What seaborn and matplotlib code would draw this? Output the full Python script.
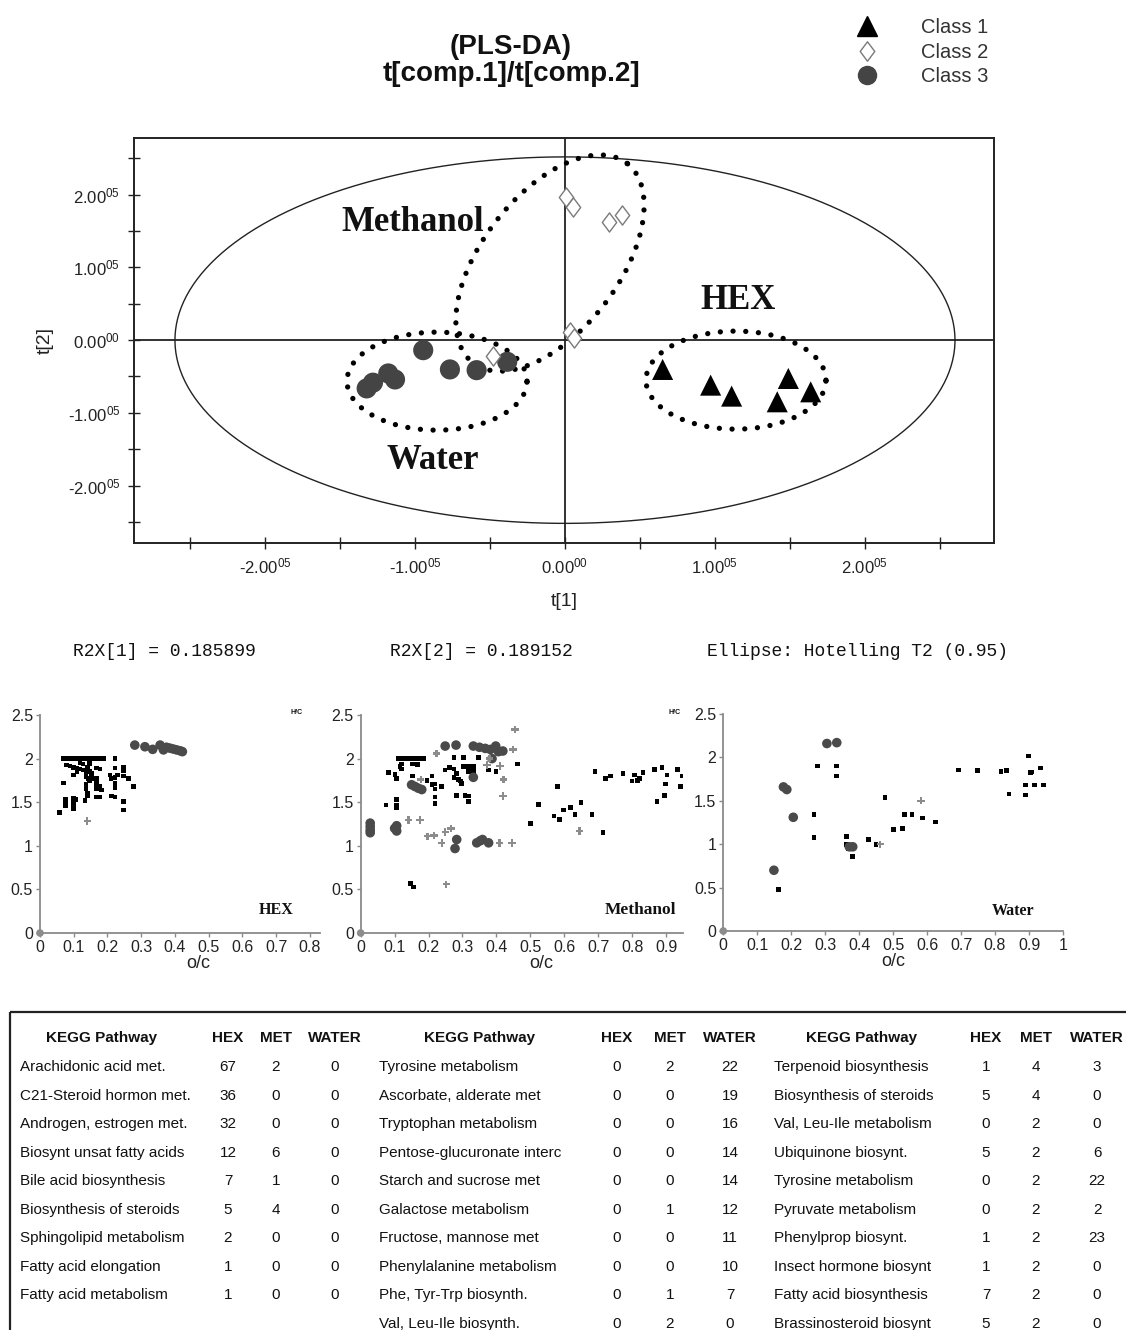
import numpy as np
import pandas as pd
import matplotlib
matplotlib.use("Agg")
import matplotlib.pyplot as plt
from matplotlib.lines import Line2D
from matplotlib.path import Path
from matplotlib.patches import Rectangle
from matplotlib.ticker import FixedLocator, FuncFormatter
import seaborn as sns

sns.set_style("ticks")
plt.rcParams["font.family"] = ["Liberation Sans", "DejaVu Sans"]
plt.rcParams["mathtext.fontset"] = "custom"
plt.rcParams["mathtext.rm"] = "Liberation Sans"
plt.rcParams["mathtext.it"] = "Liberation Sans:italic"
plt.rcParams["mathtext.bf"] = "Liberation Sans:bold"
plt.rcParams["axes.unicode_minus"] = False

W, H = 1126, 1330

# ---------------- PLS-DA scores (t[1], t[2]) ----------------
hex_t1 = [65100, 97100, 111100, 148900, 141500, 163800]
hex_t2 = [-40300, -61900, -77000, -52700, -84800, -71100]
met_t1 = [700, 5200, 29300, 37800, 3300, 6300, -47700]
met_t2 = [197100, 182900, 162700, 171900, 11400, 2300, -22000]
wat_t1 = [-132200, -128000, -117800, -113300, -94500, -76700, -58900, -38500]
wat_t2 = [-66400, -58500, -45800, -54100, -13800, -40300, -41300, -29800]

# Hotelling T2 (0.95) ellipse semi-axes
hotelling_axes = (260000, 252000)

# Group outlines: centre, two conjugate semi-diameters
group_names = ["Methanol", "Water", "HEX"]
group_centres = [(-10000, 106000), (-85300, -56400), (114000, -55000)]
group_vec_a = [(51400, 137100), (60000, 0), (60000, 0)]
group_vec_b = [(-36000, 57500), (0, 67400), (0, 67400)]
group_label_pos = [(-101300, 162300), (-88000, -165000), (115300, 55000)]

r2x_text = ["R2X[1] = 0.185899", "R2X[2] = 0.189152", "Ellipse: Hotelling T2 (0.95)"]

# ---------------- van Krevelen data (O/C, H/C) ----------------
hex_squares = [
    (0.07, 2.0), (0.08, 2.0), (0.09, 2.0), (0.10, 2.0), (0.11, 2.0), (0.12, 2.0),
    (0.13, 2.0), (0.14, 2.0), (0.15, 2.0), (0.165, 2.0), (0.176, 2.0), (0.19, 2.0),
    (0.222, 2.0),
    (0.079, 1.926), (0.089, 1.914), (0.099, 1.90), (0.109, 1.89), (0.119, 1.88), (0.128, 1.868),
    (0.069, 1.72), (0.057, 1.38), (0.076, 1.53), (0.076, 1.49), (0.076, 1.455),
    (0.099, 1.54), (0.099, 1.485), (0.099, 1.43), (0.107, 1.53), (0.10, 1.81),
    (0.11, 1.85), (0.119, 1.95), (0.127, 1.94),
    (0.133, 1.52), (0.136, 1.65), (0.136, 1.70), (0.136, 1.79), (0.136, 1.84),
    (0.14, 1.90), (0.146, 1.945), (0.146, 1.85), (0.143, 1.77), (0.146, 1.75),
    (0.14, 1.57), (0.14, 1.60), (0.156, 1.77), (0.153, 1.83),
    (0.168, 1.89), (0.168, 1.77), (0.168, 1.715), (0.168, 1.66), (0.168, 1.56),
    (0.178, 1.88), (0.178, 1.68), (0.178, 1.56), (0.183, 1.64), (0.207, 1.81),
    (0.21, 1.77), (0.212, 1.57), (0.222, 1.56),
    (0.222, 1.89), (0.222, 1.78), (0.222, 1.715), (0.222, 1.67), (0.229, 1.81),
    (0.248, 1.90), (0.248, 1.86), (0.248, 1.80), (0.248, 1.505), (0.248, 1.41),
    (0.262, 1.77), (0.277, 1.68),
]
hex_circles = [
    (0.281, 2.155), (0.311, 2.136), (0.334, 2.106), (0.356, 2.155), (0.366, 2.10),
    (0.375, 2.13), (0.385, 2.12), (0.395, 2.11), (0.405, 2.10), (0.415, 2.09), (0.422, 2.08),
]
hex_pluses = [(0.14, 1.286)]

met_squares = [
    (0.11, 2.0), (0.12, 2.0), (0.13, 2.0), (0.14, 2.0), (0.15, 2.0), (0.16, 2.0),
    (0.17, 2.0), (0.185, 2.0),
    (0.082, 1.84), (0.075, 1.47), (0.101, 1.82), (0.106, 1.77), (0.106, 1.53),
    (0.106, 1.47), (0.106, 1.44), (0.116, 1.91), (0.121, 1.88), (0.121, 1.94),
    (0.153, 1.94), (0.167, 1.93), (0.153, 1.80), (0.18, 1.64), (0.195, 1.75),
    (0.21, 1.80), (0.21, 1.70), (0.219, 1.71), (0.219, 1.65), (0.219, 1.56),
    (0.219, 1.485), (0.239, 1.68), (0.249, 1.87), (0.262, 1.90), (0.275, 2.01),
    (0.275, 1.88), (0.275, 1.785), (0.283, 1.83), (0.288, 1.76), (0.295, 1.745),
    (0.298, 1.715), (0.283, 1.58), (0.303, 2.01), (0.303, 1.91), (0.308, 1.58),
    (0.318, 1.57), (0.318, 1.505), (0.318, 1.91), (0.318, 1.85), (0.332, 1.91),
    (0.332, 1.85), (0.347, 2.01), (0.377, 1.87), (0.399, 1.85), (0.462, 1.94),
    (0.50, 1.256), (0.524, 1.474), (0.57, 1.34), (0.58, 1.68), (0.586, 1.30),
    (0.598, 1.41), (0.618, 1.44), (0.632, 1.36), (0.649, 1.50), (0.682, 1.36),
    (0.691, 1.85), (0.714, 1.15), (0.721, 1.77), (0.736, 1.80), (0.773, 1.83),
    (0.80, 1.745), (0.807, 1.81), (0.815, 1.75), (0.822, 1.77), (0.832, 1.84),
    (0.866, 1.875), (0.873, 1.505), (0.888, 1.90), (0.895, 1.58), (0.898, 1.71),
    (0.903, 1.81), (0.934, 1.875), (0.942, 1.68), (0.947, 1.80),
    (0.146, 0.567), (0.155, 0.528),
]
met_circles = [
    (0.028, 1.26), (0.028, 1.22), (0.028, 1.18), (0.028, 1.15),
    (0.106, 1.23), (0.106, 1.17), (0.10, 1.20),
    (0.15, 1.70), (0.16, 1.68), (0.17, 1.66), (0.18, 1.645),
    (0.249, 2.144), (0.281, 2.155), (0.332, 2.144), (0.35, 2.13), (0.367, 2.117),
    (0.382, 2.105), (0.398, 2.144), (0.406, 2.08), (0.419, 2.087), (0.387, 2.0),
    (0.332, 1.785),
    (0.283, 1.072), (0.278, 0.969), (0.342, 1.034), (0.352, 1.057), (0.359, 1.072),
    (0.377, 1.034),
]
met_pluses = [
    (0.224, 2.06), (0.141, 1.294), (0.175, 1.294), (0.177, 1.76), (0.197, 1.11),
    (0.216, 1.12), (0.239, 1.034), (0.249, 1.16), (0.266, 1.20), (0.252, 0.559),
    (0.372, 1.926), (0.411, 1.914), (0.421, 1.76), (0.419, 1.57), (0.449, 2.105),
    (0.455, 2.335), (0.409, 1.034), (0.446, 1.034), (0.645, 1.17), (0.38, 2.0),
]

wat_squares = [
    (0.162, 0.48), (0.267, 1.34), (0.267, 1.077), (0.277, 1.90), (0.334, 1.90),
    (0.334, 1.785), (0.363, 1.092), (0.363, 1.0), (0.368, 0.95), (0.381, 0.86),
    (0.427, 1.054), (0.45, 1.0), (0.476, 1.535), (0.501, 1.17), (0.528, 1.18),
    (0.533, 1.34), (0.555, 1.34), (0.587, 1.30), (0.624, 1.258), (0.693, 1.854),
    (0.749, 1.846), (0.817, 1.835), (0.833, 1.846), (0.841, 1.577), (0.899, 2.015),
    (0.889, 1.68), (0.889, 1.565), (0.904, 1.823), (0.909, 1.83), (0.916, 1.68),
    (0.933, 1.88), (0.943, 1.68),
]
wat_circles = [
    (0.149, 0.70), (0.177, 1.66), (0.187, 1.63), (0.206, 1.31), (0.305, 2.16),
    (0.334, 2.17), (0.371, 0.97), (0.381, 0.97),
]
wat_pluses = [(0.462, 1.0), (0.582, 1.50)]

origin_point = [(0.0, 0.0)]

# ---------------- KEGG pathway table ----------------
kegg1 = ["Arachidonic acid met.", "C21-Steroid hormon met.", "Androgen, estrogen met.",
         "Biosynt unsat fatty acids", "Bile acid biosynthesis", "Biosynthesis of steroids",
         "Sphingolipid metabolism", "Fatty acid elongation", "Fatty acid metabolism"]
hex1 = [67, 36, 32, 12, 7, 5, 2, 1, 1]
met1 = [2, 0, 0, 6, 1, 4, 0, 0, 0]
wat1 = [0, 0, 0, 0, 0, 0, 0, 0, 0]

kegg2 = ["Tyrosine metabolism", "Ascorbate, alderate met", "Tryptophan metabolism",
         "Pentose-glucuronate interc", "Starch and sucrose met", "Galactose metabolism",
         "Fructose, mannose met", "Phenylalanine metabolism", "Phe, Tyr-Trp biosynth.",
         "Val, Leu-Ile biosynth."]
hex2 = [0, 0, 0, 0, 0, 0, 0, 0, 0, 0]
met2 = [2, 0, 0, 0, 0, 1, 0, 0, 1, 2]
wat2 = [22, 19, 16, 14, 14, 12, 11, 10, 7, 0]

kegg3 = ["Terpenoid biosynthesis", "Biosynthesis of steroids", "Val, Leu-Ile metabolism",
         "Ubiquinone biosynt.", "Tyrosine metabolism", "Pyruvate metabolism",
         "Phenylprop biosynt.", "Insect hormone biosynt", "Fatty acid biosynthesis",
         "Brassinosteroid biosynt"]
hex3 = [1, 5, 0, 5, 0, 0, 1, 1, 7, 5]
met3 = [4, 4, 2, 2, 2, 2, 2, 2, 2, 2]
wat3 = [3, 0, 0, 6, 22, 2, 23, 0, 0, 0]


def fx(px):
    return px / W


def fy(py):
    return 1 - py / H


fig = plt.figure(figsize=(W / 100, H / 100), dpi=100)

# ---------------- score plot ----------------
ax = fig.add_axes([fx(134), fy(543), 860 / W, 405 / H])
ax.axhline(0, color="#222222", lw=1.3, zorder=1)
ax.axvline(0, color="#222222", lw=1.3, zorder=1)

theta = np.linspace(0, 2 * np.pi, 400)
ax.plot(hotelling_axes[0] * np.cos(theta), hotelling_axes[1] * np.sin(theta),
        color="#222222", lw=1.0, zorder=1)

for c, a, b in zip(group_centres, group_vec_a, group_vec_b):
    gx = c[0] + a[0] * np.cos(theta) + b[0] * np.sin(theta)
    gy = c[1] + a[1] * np.cos(theta) + b[1] * np.sin(theta)
    ax.plot(gx, gy, color="black", lw=3.8, linestyle=(0, (0.01, 2.4)),
            dash_capstyle="round", zorder=2)

scores = pd.DataFrame({
    "t1": hex_t1 + met_t1 + wat_t1,
    "t2": hex_t2 + met_t2 + wat_t2,
    "cls": ["Class 1"] * len(hex_t1) + ["Class 2"] * len(met_t1) + ["Class 3"] * len(wat_t1),
})

diamond = Path([(0, 1), (0.75, 0), (0, -1), (-0.75, 0), (0, 1)],
               [Path.MOVETO, Path.LINETO, Path.LINETO, Path.LINETO, Path.CLOSEPOLY])

sns.scatterplot(data=scores[scores.cls == "Class 3"], x="t1", y="t2", ax=ax,
                marker="o", s=210, color="#444444", edgecolor="none", legend=False, zorder=3)
sns.scatterplot(data=scores[scores.cls == "Class 2"], x="t1", y="t2", ax=ax,
                marker=diamond, s=190, color="white", edgecolor="#7a7a7a", linewidth=1.0,
                legend=False, zorder=4)
sns.scatterplot(data=scores[scores.cls == "Class 1"], x="t1", y="t2", ax=ax,
                marker="^", s=230, color="black", edgecolor="none", legend=False, zorder=3)

for name, pos in zip(group_names, group_label_pos):
    ax.text(pos[0], pos[1], name, family="Liberation Serif", weight="bold",
            fontsize=25, ha="center", va="center", color="#111111", zorder=5)

ax.set_xlim(-287300, 286000)
ax.set_ylim(-279000, 278000)
ticks = np.arange(-250000, 250001, 50000)
ax.xaxis.set_major_locator(FixedLocator(ticks))
ax.yaxis.set_major_locator(FixedLocator(ticks))


def sci_label(v, pos):
    k = v / 1e5
    if abs(k - round(k)) > 1e-6:
        return ""
    k = int(round(k))
    exp = "00" if k == 0 else "05"
    sign = "-" if k < 0 else ""
    return sign + r"$\mathregular{" + f"{abs(k):.2f}" + "^{" + exp + "}}$"


ax.xaxis.set_major_formatter(FuncFormatter(sci_label))
ax.yaxis.set_major_formatter(FuncFormatter(sci_label))
ax.tick_params(direction="inout", length=8, width=1.0, labelsize=12,
               colors="#222222", pad=6)
for sp in ax.spines.values():
    sp.set_color("#222222")
    sp.set_linewidth(1.4)
ax.set_xlabel("t[1]", fontsize=14, color="#222222", labelpad=12)
ax.set_ylabel("t[2]", fontsize=14, color="#222222", labelpad=10)

fig.text(fx(511), fy(47), "(PLS-DA)", ha="center", va="center",
         fontsize=20, weight="bold", color="#111111")
fig.text(fx(511), fy(74), "t[comp.1]/t[comp.2]", ha="center", va="center",
         fontsize=20, weight="bold", color="#111111")

handles = [
    Line2D([], [], ls="", marker="^", color="black", ms=14),
    Line2D([], [], ls="", marker=diamond, mfc="white", mec="#7a7a7a", mew=1.0, ms=14),
    Line2D([], [], ls="", marker="o", color="#444444", ms=13),
]
fig.legend(handles, ["Class 1", "Class 2", "Class 3"], loc="upper left",
           bbox_to_anchor=(fx(857), fy(18)), frameon=False, fontsize=14.5,
           handlelength=1.0, handletextpad=2.2, labelspacing=0.28,
           borderpad=0, borderaxespad=0, labelcolor="#333333")

for txt, px in zip(r2x_text, [73, 390, 707]):
    fig.text(fx(px), fy(651), txt, ha="left", va="center",
             family="Liberation Mono", fontsize=13, color="#111111")

# ---------------- van Krevelen panels ----------------
panels = [
    dict(rect=[fx(40), fy(933), 280 / W, 218 / H], xmax=0.83, xticks=np.arange(0, 0.81, 0.1),
         sq=hex_squares, ci=hex_circles, pl=hex_pluses, name="HEX", nsize=11.5,
         npos=(0.843, 0.105), hc=0.918, labx=0.564),
    dict(rect=[fx(360.7), fy(933), 322.3 / W, 218 / H], xmax=0.95, xticks=np.arange(0, 0.91, 0.1),
         sq=met_squares, ci=met_circles, pl=met_pluses, name="Methanol", nsize=12.5,
         npos=(0.867, 0.105), hc=0.975, labx=0.559),
    dict(rect=[fx(723.3), fy(931), 339.7 / W, 217 / H], xmax=1.0, xticks=np.arange(0, 1.01, 0.1),
         sq=wat_squares, ci=wat_circles, pl=wat_pluses, name="Water", nsize=11.5,
         npos=(0.853, 0.09), hc=None, labx=0.5),
]


def frame(points):
    return pd.DataFrame(points, columns=["oc", "hc"])


for p in panels:
    pax = fig.add_axes(p["rect"])
    sns.scatterplot(data=frame(p["sq"]), x="oc", y="hc", ax=pax, marker="s", s=11,
                    color="black", edgecolor="none", legend=False, zorder=3)
    sns.scatterplot(data=frame(p["ci"]), x="oc", y="hc", ax=pax, marker="o", s=48,
                    color="#4a4a4a", edgecolor="none", legend=False, zorder=4)
    sns.scatterplot(data=frame(p["pl"]), x="oc", y="hc", ax=pax, marker="P", s=28,
                    color="#8c8c8c", edgecolor="none", legend=False, zorder=4)
    sns.scatterplot(data=frame(origin_point), x="oc", y="hc", ax=pax, marker="o", s=30,
                    color="#8c8c8c", edgecolor="none", legend=False, zorder=5, clip_on=False)
    pax.set_xlim(0, p["xmax"])
    pax.set_ylim(0, 2.5)
    pax.set_xticks(p["xticks"])
    pax.set_yticks([0, 0.5, 1, 1.5, 2, 2.5])
    pax.xaxis.set_major_formatter(FuncFormatter(lambda v, pos: f"{v:g}"))
    pax.yaxis.set_major_formatter(FuncFormatter(lambda v, pos: f"{v:g}"))
    sns.despine(ax=pax)
    for side in ("left", "bottom"):
        pax.spines[side].set_color("#8a8a8a")
        pax.spines[side].set_linewidth(1.3)
    pax.tick_params(length=3, width=1, color="#8a8a8a", labelsize=11.5,
                    labelcolor="#222222", pad=2)
    pax.set_xlabel("o/c", fontsize=13, color="#222222", labelpad=0)
    pax.xaxis.set_label_coords(p["labx"], -0.1)
    pax.set_ylabel("")
    pax.text(p["npos"][0], p["npos"][1], p["name"], transform=pax.transAxes,
             family="Liberation Serif", weight="bold", fontsize=p["nsize"],
             ha="center", va="center", color="#111111")
    if p["hc"] is not None:
        pax.text(p["hc"], 1.01, "H/C", transform=pax.transAxes, fontsize=5,
                 weight="bold", ha="center", va="center", color="#111111")

# ---------------- KEGG table ----------------
tab = fig.add_axes([0, 0, 1, 330 / H])
tab.set_xlim(0, W)
tab.set_ylim(H, 1000)
tab.axis("off")
tab.add_patch(Rectangle((10, 1012), 1300, 500, fill=False, lw=1.6,
                        edgecolor="#222222", clip_on=False))

blocks = [(kegg1, hex1, met1, wat1), (kegg2, hex2, met2, wat2), (kegg3, hex3, met3, wat3)]
name_left = [20, 379, 774]
head_centre = [102, 480, 862]
num_centres = [(228, 276, 335), (617, 670, 730), (986, 1036, 1097)]
header_y = 1038
row0_y = 1067
row_h = 28.55
tfs = 11

for (names, hx, mt, wt), nl, hcx, ncx in zip(blocks, name_left, head_centre, num_centres):
    tab.text(hcx, header_y, "KEGG Pathway", ha="center", va="center",
             fontsize=tfs, weight="bold", color="#111111")
    for lab, cx in zip(["HEX", "MET", "WATER"], ncx):
        tab.text(cx, header_y, lab, ha="center", va="center",
                 fontsize=tfs, weight="bold", color="#111111")
    for i, (nm, a, b, c) in enumerate(zip(names, hx, mt, wt)):
        yy = row0_y + i * row_h
        tab.text(nl, yy, nm, ha="left", va="center", fontsize=tfs, color="#111111")
        for val, cx in zip((a, b, c), ncx):
            tab.text(cx, yy, str(val), ha="center", va="center", fontsize=tfs, color="#111111")

fig.savefig("out.png", dpi=100)
